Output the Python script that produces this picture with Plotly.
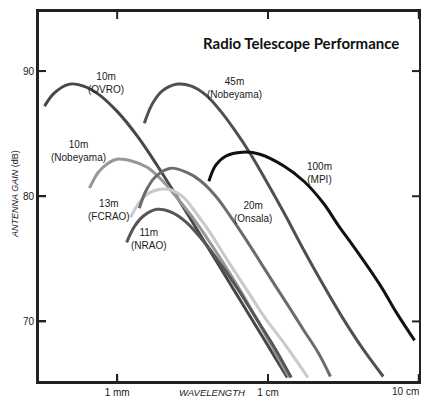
import plotly.graph_objects as go

# ---- data (wavelength in mm, antenna gain in dB) ----
ovro_10m_wl = [0.330, 0.382, 0.485, 0.598, 0.750, 1.01, 1.361, 1.837, 2.477, 3.342, 4.508, 6.081, 8.204, 11.04, 13.43]
ovro_10m_db = [87.2, 88.24, 88.96, 88.8, 88.16, 86.72, 84.8, 82.48, 80.0, 77.44, 74.88, 72.32, 69.76, 67.2, 65.52]

nobeyama_10m_wl = [0.655, 0.750, 0.871, 0.995, 1.265, 1.581, 1.982, 2.477, 3.342, 4.508, 6.546, 9.506, 13.84]
nobeyama_10m_db = [80.64, 81.92, 82.64, 82.96, 82.8, 82.32, 81.28, 79.92, 77.92, 75.6, 72.48, 69.04, 65.52]

nrao_11m_wl = [1.156, 1.303, 1.514, 1.837, 2.301, 2.877, 3.597, 4.508, 6.081, 8.204, 11.04, 14.26]
nrao_11m_db = [76.32, 77.6, 78.48, 78.96, 78.72, 77.92, 76.64, 75.12, 72.88, 70.4, 67.92, 65.52]

fcrao_13m_wl = [1.227, 1.361, 1.581, 1.923, 2.301, 2.793, 3.342, 4.121, 5.395, 7.063, 9.506, 12.82, 18.37]
fcrao_13m_db = [78.32, 79.28, 80.16, 80.56, 80.48, 79.84, 78.64, 77.12, 74.88, 72.72, 70.32, 68.24, 65.52]

onsala_20m_wl = [1.403, 1.535, 1.782, 2.265, 2.877, 3.597, 4.508, 5.636, 7.063, 8.831, 11.04, 13.84, 17.30, 21.68, 25.94]
onsala_20m_db = [79.04, 80.32, 81.52, 82.24, 81.92, 81.2, 80.0, 78.4, 76.64, 74.8, 72.96, 71.12, 69.28, 67.44, 65.6]

nobeyama_45m_wl = [1.514, 1.706, 1.982, 2.518, 3.105, 3.882, 4.853, 6.081, 7.603, 9.506, 12.82, 17.30, 23.33, 31.41, 42.36, 58.08]
nobeyama_45m_db = [85.84, 87.36, 88.4, 88.96, 88.8, 88.08, 86.8, 85.2, 83.44, 81.44, 78.64, 75.68, 72.88, 70.24, 67.84, 65.6]

mpi_100m_wl = [4.055, 4.508, 5.236, 6.745, 8.831, 12.82, 17.30, 23.33, 29.24, 36.48, 45.71, 57.15, 71.61, 93.76]
mpi_100m_db = [81.2, 82.48, 83.2, 83.52, 83.36, 82.4, 81.2, 79.44, 77.68, 76.08, 74.4, 72.64, 70.64, 68.48]

x_tick_vals = [1, 10, 100]
x_tick_text = ["1 mm", "1 cm", "10 cm"]
y_tick_vals = [70, 80, 90]

series = [
    ("10m (OVRO)", ovro_10m_wl, ovro_10m_db, "#474747"),
    ("10m (Nobeyama)", nobeyama_10m_wl, nobeyama_10m_db, "#979797"),
    ("13m (FCRAO)", fcrao_13m_wl, fcrao_13m_db, "#cacaca"),
    ("11m (NRAO)", nrao_11m_wl, nrao_11m_db, "#565656"),
    ("20m (Onsala)", onsala_20m_wl, onsala_20m_db, "#6c6c6c"),
    ("45m (Nobeyama)", nobeyama_45m_wl, nobeyama_45m_db, "#505050"),
    ("100m (MPI)", mpi_100m_wl, mpi_100m_db, "#111111"),
]

fig = go.Figure()
for name, wl, db, col in series:
    fig.add_trace(go.Scatter(
        x=wl, y=db, mode="lines", name=name,
        line=dict(color=col, width=3, shape="spline", smoothing=1.0),
        showlegend=False, hoverinfo="skip",
    ))

txt_font = dict(family="Liberation Sans, Arial, sans-serif", size=10, color="#1a1a1a")
labels = [
    ("10m<br>(OVRO)", -0.073, 89.04),
    ("45m<br>(Nobeyama)", 0.777, 88.68),
    ("10m<br>(Nobeyama)", -0.255, 83.6),
    ("13m<br>(FCRAO)", -0.057, 78.92),
    ("11m<br>(NRAO)", 0.210, 76.6),
    ("20m<br>(Onsala)", 0.901, 78.74),
    ("100m<br>(MPI)", 1.340, 81.88),
]
for txt, lx, ly in labels:
    fig.add_annotation(x=lx, y=ly, xref="x", yref="y", text=txt, showarrow=False,
                       font=txt_font, align="center", xanchor="center", yanchor="middle")

fig.add_annotation(text="<b>Radio Telescope Performance</b>", x=0.688, y=0.914,
                   xref="paper", yref="paper", xanchor="center", yanchor="middle", showarrow=False,
                   font=dict(family="Lato, Open Sans, sans-serif", size=15, color="#111"))
fig.add_annotation(text="<i>WAVELENGTH</i>", x=0.455, y=-0.027, xref="paper", yref="paper",
                   showarrow=False, xanchor="center", yanchor="middle",
                   font=dict(family="Liberation Sans, Arial, sans-serif", size=9.5, color="#1a1a1a"))
fig.add_annotation(text="<i>ANTENNA GAIN</i> (dB)", x=-0.060, y=0.507, xref="paper", yref="paper",
                   showarrow=False, textangle=-90, xanchor="center", yanchor="middle",
                   font=dict(family="Liberation Sans, Arial, sans-serif", size=9, color="#1a1a1a"))
# last x tick label sits at the right frame edge; keep it fully readable
fig.add_annotation(text=x_tick_text[2], x=1.003, y=-0.0243, xref="paper", yref="paper",
                   showarrow=False, xanchor="right", yanchor="middle", font=txt_font)

frame = dict(color="#222", width=2)
# plot frame
fig.add_shape(type="rect", xref="paper", yref="paper", x0=0, x1=1, y0=0, y1=1,
              line=frame, layer="above")
# inside tick marks on all four sides
for v in x_tick_vals:
    fig.add_shape(type="line", xref="x", yref="paper", x0=v, x1=v,
                  ysizemode="pixel", yanchor=0, y0=0, y1=8, line=frame)
    fig.add_shape(type="line", xref="x", yref="paper", x0=v, x1=v,
                  ysizemode="pixel", yanchor=1, y0=0, y1=-8, line=frame)
for v in y_tick_vals:
    fig.add_shape(type="line", xref="paper", yref="y", y0=v, y1=v,
                  xsizemode="pixel", xanchor=0, x0=0, x1=8, line=frame)
    fig.add_shape(type="line", xref="paper", yref="y", y0=v, y1=v,
                  xsizemode="pixel", xanchor=1, x0=0, x1=-8, line=frame)

axis_common = dict(showline=True, linewidth=2, linecolor="#222", mirror=True,
                   ticks="inside", ticklen=8, tickwidth=2, tickcolor="#222",
                   showgrid=False, zeroline=False, automargin=False,
                   tickfont=txt_font)

fig.update_xaxes(type="log", range=[-0.525, 2.008], tickvals=x_tick_vals,
                 ticktext=x_tick_text[:2] + [""], **axis_common)
fig.update_yaxes(range=[65.16, 94.8], tickvals=y_tick_vals, **axis_common)

fig.update_layout(width=421, height=389, autosize=False,
                  margin=dict(l=30, r=9, t=3, b=15),
                  paper_bgcolor="white", plot_bgcolor="white")

fig.write_html("out.html")
